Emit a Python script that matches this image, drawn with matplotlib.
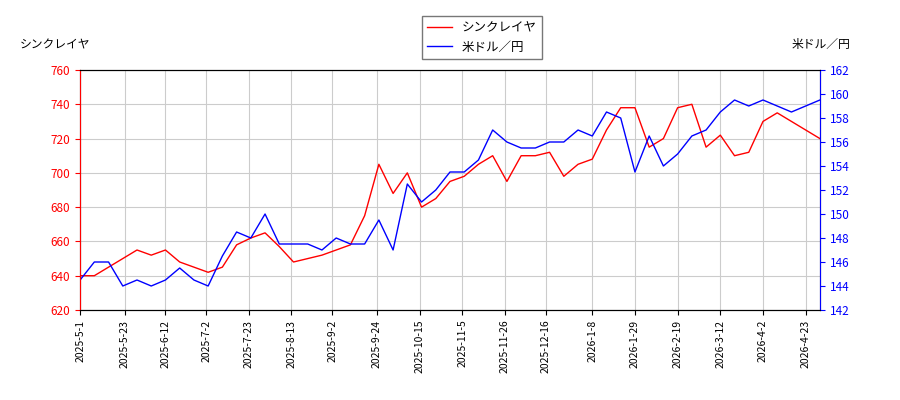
import matplotlib.pyplot as plt
import matplotlib.dates as mdates
import pandas as pd

plt.rcParams['font.family'] = ['Noto Sans CJK JP', 'DejaVu Sans']

dates = pd.date_range("2025-05-01", periods=53, freq="7D")
stock = [640, 640, 645, 650, 655, 652, 655, 648, 645, 642, 645, 658, 662, 665, 657, 648,
         650, 652, 655, 658, 675, 705, 688, 700, 680, 685, 695, 698, 705, 710, 695, 710,
         710, 712, 698, 705, 708, 725, 738, 738, 715, 720, 738, 740, 715, 722, 710, 712,
         730, 735, 730, 725, 720]
usd = [144.5, 146, 146, 144, 144.5, 144, 144.5, 145.5, 144.5, 144, 146.5, 148.5, 148, 150,
       147.5, 147.5, 147.5, 147, 148, 147.5, 147.5, 149.5, 147, 152.5, 151, 152, 153.5,
       153.5, 154.5, 157, 156, 155.5, 155.5, 156, 156, 157, 156.5, 158.5, 158, 153.5,
       156.5, 154, 155, 156.5, 157, 158.5, 159.5, 159, 159.5, 159, 158.5, 159, 159.5]
tick_dates = ["2025-5-1", "2025-5-23", "2025-6-12", "2025-7-2", "2025-7-23", "2025-8-13",
              "2025-9-2", "2025-9-24", "2025-10-15", "2025-11-5", "2025-11-26", "2025-12-16",
              "2026-1-8", "2026-1-29", "2026-2-19", "2026-3-12", "2026-4-2", "2026-4-23"]

fig, ax = plt.subplots(figsize=(9, 4), dpi=100)
fig.subplots_adjust(left=0.089, right=0.911, top=0.825, bottom=0.225)
ax2 = ax.twinx()
l1, = ax.plot(dates, stock, color="red", lw=1, label="シンクレイヤ")
l2, = ax2.plot(dates, usd, color="blue", lw=1, label="米ドル／円")
ax.set_ylim(620, 760)
ax2.set_ylim(142, 162)
ax2.set_yticks(range(142, 163, 2))
ax.set_xlim(dates[0], dates[-1])
ticks = pd.to_datetime(tick_dates, format="%Y-%m-%d")
ax.set_xticks(ticks)
ax.set_xticklabels(tick_dates, rotation=90, fontsize=7.5)
ax.tick_params(axis='y', labelsize=8.5, colors="red")
ax2.tick_params(axis='y', labelsize=8.5, colors="blue")
ax2.spines['left'].set_color("red")
ax2.spines['right'].set_color("blue")
ax.grid(True, color="#cccccc")
fig.text(0.022, 0.88, "シンクレイヤ", fontsize=8.5)
fig.text(0.945, 0.88, "米ドル／円", fontsize=8.5, ha="right")
fig.legend(handles=[l1, l2], loc="upper center", bbox_to_anchor=(0.535, 0.975),
           fontsize=9, fancybox=False, edgecolor="#555555")
fig.savefig("out.png")
